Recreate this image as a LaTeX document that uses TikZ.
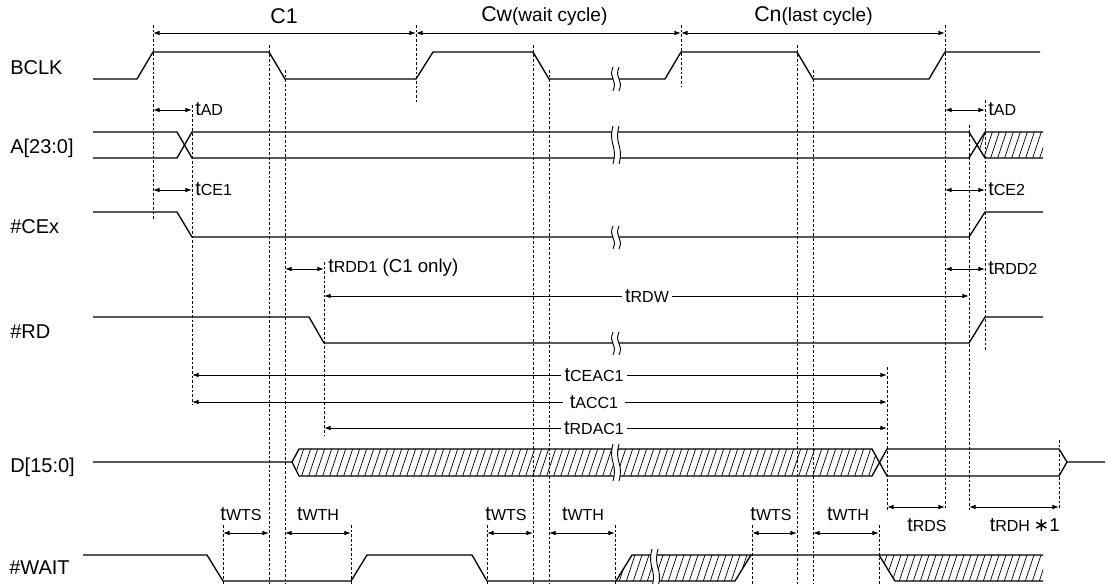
\documentclass[tikz,border=0pt]{standalone}
\usepackage{fontspec}
\setmainfont{Liberation Sans}
\newfontfamily\djv{DejaVu Sans}
\usetikzlibrary{arrows.meta}
\newcommand{\tsb}[1]{{\fontsize{15}{15}\selectfont t}{\fontsize{12}{12}\selectfont #1}}
\newcommand{\myhatch}[4]{%
  \begin{scope}
    \clip #1;
    \foreach \i in {0,1,...,#3} \draw[hl] ({#2+7*\i},#4) -- ++(15,-45);
  \end{scope}}
\newcommand{\brk}[3]{%
  \fill[white] ({#1},#2) .. controls ({#1-5},{(#2+#3)/2}) and ({#1+5},{(#2+#3)/2}) .. ({#1},#3)
     -- ({#1+6},#3) .. controls ({#1+11},{(#2+#3)/2}) and ({#1+1},{(#2+#3)/2}) .. ({#1+6},#2) -- cycle;
  \draw[line width=0.7pt] ({#1},#2) .. controls ({#1-5},{(#2+#3)/2}) and ({#1+5},{(#2+#3)/2}) .. ({#1},#3);
  \draw[line width=0.7pt] ({#1+6},#2) .. controls ({#1+1},{(#2+#3)/2}) and ({#1+11},{(#2+#3)/2}) .. ({#1+6},#3);}
\begin{document}
\begin{tikzpicture}[x=0.75pt,y=-0.75pt,
  sig/.style={line width=1pt, line join=round},
  guide/.style={line width=0.6pt, dash pattern=on 2pt off 1.5pt},
  dim/.style={{Latex[length=5pt,width=3.5pt]}-{Latex[length=5pt,width=3.5pt]}, line width=0.7pt},
  lbl/.style={font=\fontsize{15}{18}\selectfont, anchor=west, inner sep=0pt},
  tl/.style={inner sep=0pt, anchor=west},
  tc/.style={inner sep=0pt},
  tw/.style={inner sep=2.5pt, fill=white},
  hl/.style={line width=0.55pt}
]
\useasboundingbox (0,0) rectangle (1108,584);

% guide lines
\foreach \x/\a/\b in {153/25/220, 416/25/102, 681/25/87, 945/25/510, 269/45/584, 285/70/584,
  533/45/584, 549/70/584, 797/45/584, 813/70/584, 192/105/405, 324/262/435, 887/367/510,
  969/125/510, 985/100/350, 223/525/584, 351/525/584, 487/525/584, 615/525/584,
  752/525/584, 879/525/584, 1059/440/510}
  \draw[guide] (\x,\a) -- (\x,\b);

% signal names
\node[lbl] (nBCLK) at (10,68) {BCLK};
\node[lbl] (nA) at (10,148) {A[23:0]};
\node[lbl] (nCE) at (10,227) {\#CEx};
\node[lbl] (nRD) at (10,332) {\#RD};
\node[lbl] (nD) at (10,467) {D[15:0]};
\node[lbl] (nW) at (9,568) {\#WAIT};

% cycles
\draw[dim] (153,33) -- (416,33);
\draw[dim] (416,33) -- (681,33);
\draw[dim] (681,33) -- (945,33);
\node[tc] (lC1) at (284,16) {\fontsize{16}{16}\selectfont C1};
\node[tl] (lCw) at (481,16) {\fontsize{16}{16}\selectfont Cw\fontsize{14.3}{16}\selectfont(wait cycle)};
\node[tl] (lCn) at (754,16) {\fontsize{16}{16}\selectfont Cn\fontsize{14.3}{16}\selectfont(last cycle)};

% BCLK
\draw[sig] (93,79) -- (137,79) -- (153,52) -- (269,52) -- (285,79) -- (416,79) -- (433,52)
  -- (533,52) -- (549,79) -- (665,79) -- (681,52) -- (797,52) -- (813,79) -- (929,79)
  -- (945,52) -- (1040,52);

% A
\myhatch{(977,145) -- (985,132) -- (1043,132) -- (1043,158) -- (985,158) -- cycle}{960}{13}{166}
\draw[sig] (93,132) -- (177,132) -- (192,158) -- (969,158) -- (985,132) -- (1043,132);
\draw[sig] (93,158) -- (177,158) -- (192,132) -- (969,132) -- (985,158) -- (1043,158);

% CEx
\draw[sig] (93,212) -- (177,212) -- (192,237) -- (969,237) -- (985,212) -- (1043,212);

% RD
\draw[sig] (93,317) -- (309,317) -- (324,343) -- (969,343) -- (985,317) -- (1043,317);

% D
\myhatch{(292,462) -- (299,449) -- (872,449) -- (879.5,462) -- (872,476) -- (299,476) -- cycle}{278}{87}{484}
\draw[sig] (93,462) -- (292,462) -- (299,449) -- (872,449) -- (887,476) -- (1059,476) -- (1067,462) -- (1105,462);
\draw[sig] (292,462) -- (299,476) -- (872,476) -- (887,449) -- (1059,449) -- (1067,462);

% WAIT
\myhatch{(616,581) -- (632,555) -- (751,555) -- (735,581) -- cycle}{596}{23}{588}
\myhatch{(879,555) -- (1043,555) -- (1043,581) -- (895,581) -- cycle}{862}{28}{588}
\draw[sig] (83,555) -- (207,555) -- (223,581) -- (351,581) -- (367,555) -- (472,555)
  -- (487,581) -- (616,581) -- (735,581) -- (751,555) -- (879,555) -- (1043,555);
\draw[sig] (616,581) -- (632,555) -- (751,555);
\draw[sig] (879,555) -- (895,581) -- (1043,581);

% breaks
\brk{613}{67}{91}
\brk{613}{126}{164}
\brk{613}{226}{249}
\brk{613}{332}{355}
\brk{613}{444}{481}
\brk{652}{549}{587}

% timing arrows
\draw[dim] (153,110) -- (192,110);
\node[tl] (lAD1) at (195,109) {\tsb{AD}};
\draw[dim] (153,190) -- (192,190);
\node[tl] (lCE1) at (195,189) {\tsb{CE1}};
\draw[dim] (945,110) -- (985,110);
\node[tl] (lAD2) at (988,109) {\tsb{AD}};
\draw[dim] (945,190) -- (985,190);
\node[tl] (lCE2) at (988,189) {\tsb{CE2}};
\draw[dim] (285,269) -- (324,269);
\node[tl] (lRDD1) at (328,268) {\tsb{RDD1}\fontsize{14}{16}\selectfont\ (C1 only)};
\draw[dim] (945,269) -- (985,269);
\node[tl] (lRDD2) at (988,268) {\tsb{RDD2}};
\draw[dim] (324,296) -- (969,296);
\node[tw] (lRDW) at (647,296) {\tsb{RDW}};
\draw[dim] (192,375) -- (887,375);
\node[tw] (lCEAC) at (594,375) {\tsb{CEAC1}};
\draw[dim] (192,402) -- (887,402);
\node[tw,inner xsep=5pt] (lACC) at (594,402) {\tsb{ACC1}};
\draw[dim] (324,428) -- (887,428);
\node[tw] (lRDAC) at (594,428) {\tsb{RDAC1}};

\draw[dim] (223,533) -- (269,533);
\node[tc] (lWTS1) at (241,514) {\tsb{WTS}};
\draw[dim] (285,533) -- (351,533);
\node[tc] (lWTH1) at (318,514) {\tsb{WTH}};
\draw[dim] (487,533) -- (533,533);
\node[tc] (lWTS2) at (506,514) {\tsb{WTS}};
\draw[dim] (549,533) -- (615,533);
\node[tc] (lWTH2) at (583,514) {\tsb{WTH}};
\draw[dim] (752,533) -- (797,533);
\node[tc] (lWTS3) at (771,514) {\tsb{WTS}};
\draw[dim] (813,533) -- (879,533);
\node[tc] (lWTH3) at (848,514) {\tsb{WTH}};
\draw[dim] (887,507) -- (945,507);
\node[tc] (lRDS) at (927,525) {\tsb{RDS}};
\draw[dim] (969,507) -- (1059,507);
\node[tc,anchor=east] (lRDH) at (1060,525) {\tsb{RDH}\ {\fontsize{14}{16}\selectfont{\djv ∗}1}};
\end{tikzpicture}
\end{document}
